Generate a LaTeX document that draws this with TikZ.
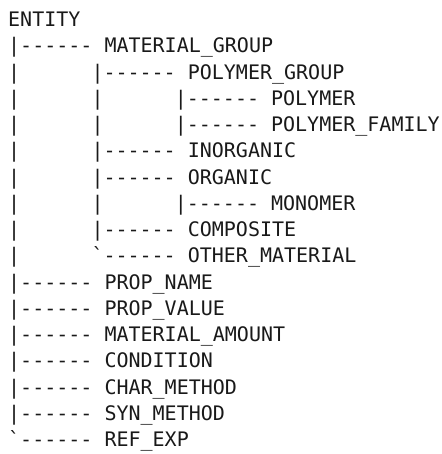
\documentclass[tikz,border=0pt]{standalone}
\usepackage{fontspec}
\setmonofont{DejaVu Sans Mono}
\begin{document}
\begin{tikzpicture}[
    x=11.9pt, y=-26.25pt,
    entry/.style={anchor=base west, inner sep=0pt,
        font=\ttfamily\fontsize{20}{24}\selectfont, text=black!90}
]
\useasboundingbox (-8pt,26.7pt) rectangle (433pt,-427.3pt);
% root and first level
\node[entry] (entity)     at (0,0)  {ENTITY};
\node[entry] (matgroup)   at (0,1)  {|------ MATERIAL\_GROUP};
% material group children
\node[entry] (polygroup)  at (7,2)  {|------ POLYMER\_GROUP};
\node[entry] (polymer)    at (14,3) {|------ POLYMER};
\node[entry] (polyfamily) at (14,4) {|------ POLYMER\_FAMILY};
\node[entry] (inorganic)  at (7,5)  {|------ INORGANIC};
\node[entry] (organic)    at (7,6)  {|------ ORGANIC};
\node[entry] (monomer)    at (14,7) {|------ MONOMER};
\node[entry] (composite)  at (7,8)  {|------ COMPOSITE};
\node[entry] (othermat)   at (7,9)  {\char96------ OTHER\_MATERIAL};
% remaining first level
\node[entry] (propname)   at (0,10) {|------ PROP\_NAME};
\node[entry] (propvalue)  at (0,11) {|------ PROP\_VALUE};
\node[entry] (matamount)  at (0,12) {|------ MATERIAL\_AMOUNT};
\node[entry] (condition)  at (0,13) {|------ CONDITION};
\node[entry] (charmethod) at (0,14) {|------ CHAR\_METHOD};
\node[entry] (synmethod)  at (0,15) {|------ SYN\_METHOD};
\node[entry] (refexp)     at (0,16) {\char96------ REF\_EXP};
% continuation bars
\foreach \r in {2,...,9}
    \node[entry] (bara\r) at (0,\r) {|};
\foreach \r in {3,4,7}
    \node[entry] (barb\r) at (7,\r) {|};
\end{tikzpicture}
\end{document}
